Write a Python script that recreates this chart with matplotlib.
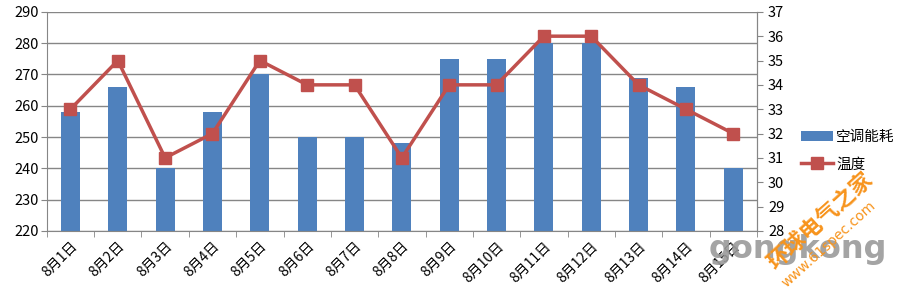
import matplotlib.pyplot as plt
import numpy as np

plt.rcParams['font.family'] = ['Noto Sans CJK SC', 'DejaVu Sans']

days = ["8月1日", "8月2日", "8月3日", "8月4日", "8月5日", "8月6日", "8月7日", "8月8日",
        "8月9日", "8月10日", "8月11日", "8月12日", "8月13日", "8月14日", "8月15日"]
energy = [258, 266, 240, 258, 270, 250, 250, 248, 275, 275, 280, 280, 269, 266, 240]
temp = [33, 35, 31, 32, 35, 34, 34, 31, 34, 34, 36, 36, 34, 33, 32]

grey = "#868686"
fig = plt.figure(figsize=(9, 2.96), dpi=100)
ax = fig.add_axes([0.052, 0.22, 0.789, 0.74])
x = np.arange(len(days))

bars = ax.bar(x, energy, width=0.4, color="#4F81BD", label="空调能耗", zorder=2)
ax.set_ylim(220, 290)
ax.set_xlim(-0.5, len(days) - 0.5)
ax.set_yticks(range(220, 291, 10))
ax.grid(axis="y", color=grey, linewidth=1, zorder=0)
ax.set_xticks(x)
ax.set_xticklabels(days, rotation=45, ha="right", rotation_mode="anchor", fontsize=10)
ax.set_xticks(np.arange(-0.5, len(days)), minor=True)
ax.tick_params(axis="x", which="major", length=0, pad=6)
ax.tick_params(axis="x", which="minor", length=4, color=grey)
ax.tick_params(axis="y", length=4, color=grey, labelsize=10.5, pad=2)
ax.spines["top"].set_visible(False)
for s in ["left", "bottom", "right"]:
    ax.spines[s].set_color(grey)

ax2 = ax.twinx()
line, = ax2.plot(x, temp, color="#C0504D", linewidth=2.5, marker="s", markersize=8,
                 label="温度", zorder=3)
ax2.set_ylim(28, 37)
ax2.set_yticks(range(28, 38))
ax2.tick_params(axis="y", length=4, color=grey, labelsize=10.5, pad=4)
for s in ["top", "left", "bottom"]:
    ax2.spines[s].set_visible(False)
ax2.spines["right"].set_color(grey)

fig.legend([bars, line], ["空调能耗", "温度"], loc="center left",
           bbox_to_anchor=(0.89, 0.49), frameon=False, fontsize=10.5,
           handlelength=2.2, handletextpad=0.2, labelspacing=0.9, borderpad=0,
           borderaxespad=0)

# watermark
fig.text(0.787, 0.13, "gongkong", fontsize=23, fontweight="bold", color="#9a9a9a",
         alpha=0.9, family="DejaVu Sans")
fig.text(0.848, 0.09, "环球电气之家", fontsize=16, color="#F7941D", rotation=42,
         fontweight="bold")
fig.text(0.866, 0.03, "www.61spec.com", fontsize=10, color="#F7941D", rotation=42,
         family="DejaVu Sans")

plt.savefig("out.png")
